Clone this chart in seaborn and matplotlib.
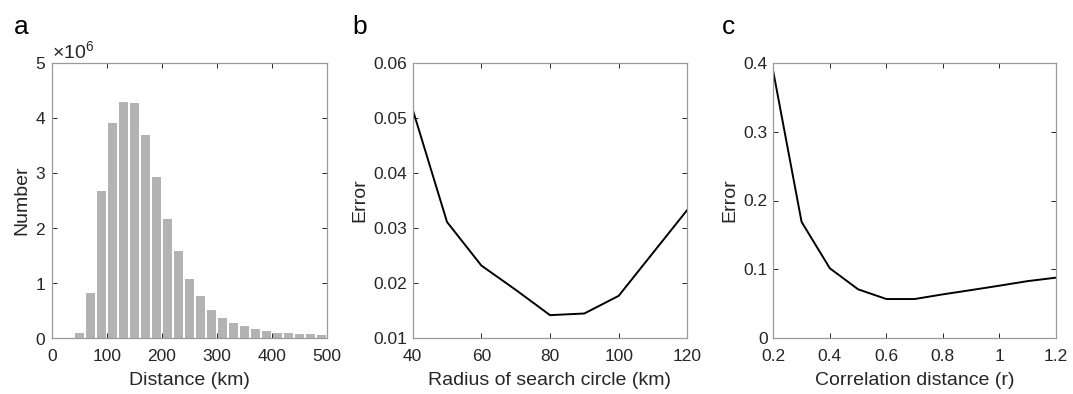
import numpy as np
import pandas as pd
import matplotlib
matplotlib.use("Agg")
import matplotlib.pyplot as plt
import seaborn as sns
from matplotlib.ticker import ScalarFormatter

# ---- data ----
dist_centers = [10, 30, 50, 70, 90, 110, 130, 150, 170, 190, 210, 230, 250,
                270, 290, 310, 330, 350, 370, 390, 410, 430, 450, 470, 490]
dist_counts = [0.003e6, 0.008e6, 0.09e6, 0.83e6, 2.67e6, 3.90e6, 4.28e6, 4.27e6,
               3.68e6, 2.93e6, 2.17e6, 1.58e6, 1.08e6, 0.76e6, 0.52e6, 0.375e6,
               0.28e6, 0.22e6, 0.168e6, 0.132e6, 0.105e6, 0.09e6, 0.08e6,
               0.072e6, 0.062e6]

radius_km = [40, 50, 60, 70, 80, 90, 100, 110, 120]
radius_err = [0.0515, 0.0311, 0.0232, 0.0188, 0.0142, 0.0145, 0.0177, 0.0255, 0.0333]

corr_dist = [0.2, 0.3, 0.4, 0.5, 0.6, 0.7, 0.8, 0.9, 1.0, 1.1, 1.2]
corr_err = [0.387, 0.169, 0.1016, 0.0711, 0.057, 0.057, 0.0638, 0.070, 0.0764, 0.083, 0.088]

hist_df = pd.DataFrame({'distance': dist_centers, 'count': dist_counts})

# ---- style ----
sns.set_style("white")
plt.rcParams['font.family'] = ['Liberation Sans', 'DejaVu Sans']
plt.rcParams['mathtext.fontset'] = 'custom'
plt.rcParams['mathtext.rm'] = 'Liberation Sans'
plt.rcParams['mathtext.it'] = 'Liberation Sans'

fig = plt.figure(figsize=(10.73, 3.94), dpi=100)
ax_a = fig.add_axes([51.7/1073, (394-338.3)/394, 275/1073, 275.6/394])
ax_b = fig.add_axes([412.7/1073, (394-338.3)/394, 274.6/1073, 275.6/394])
ax_c = fig.add_axes([773.3/1073, (394-338.3)/394, 282.7/1073, 275.6/394])

tick_col = '#262626'
box_col = '#9a9a9a'
TICK_FS = 12.5
LAB_FS = 14

def style(ax):
    for s in ax.spines.values():
        s.set_visible(True)
        s.set_color(box_col)
        s.set_linewidth(0.9)
    ax.tick_params(direction='in', length=3.5, width=0.7, color=tick_col,
                   labelsize=TICK_FS, labelcolor=tick_col, top=True, right=True,
                   bottom=True, left=True)
    ax.tick_params(axis='x', pad=7.5)
    ax.tick_params(axis='y', pad=4)
    ax.xaxis.label.set_color(tick_col)
    ax.yaxis.label.set_color(tick_col)

# panel a
sns.histplot(data=hist_df, x='distance', weights='count', binwidth=20,
             binrange=(0, 500), shrink=0.8, color='#b3b3b3', edgecolor='none',
             alpha=1, ax=ax_a)
ax_a.set_xlim(0, 500)
ax_a.set_ylim(0, 5e6)
ax_a.set_xticks([0, 100, 200, 300, 400, 500])
ax_a.set_yticks([0, 1e6, 2e6, 3e6, 4e6, 5e6])
fmt = ScalarFormatter(useMathText=True)
fmt.set_powerlimits((0, 0))
ax_a.yaxis.set_major_formatter(fmt)
ax_a.yaxis.get_offset_text().set_fontsize(14)
ax_a.yaxis.get_offset_text().set_color(tick_col)
ax_a.set_xlabel('Distance (km)', fontsize=LAB_FS, labelpad=6)
ax_a.set_ylabel('Number', fontsize=LAB_FS, labelpad=3.5)
style(ax_a)

# panel b
sns.lineplot(x=radius_km, y=radius_err, color='black', linewidth=1.4, ax=ax_b)
ax_b.set_xlim(40, 120)
ax_b.set_ylim(0.01, 0.06)
ax_b.set_xticks([40, 60, 80, 100, 120])
ax_b.set_yticks([0.01, 0.02, 0.03, 0.04, 0.05, 0.06])
ax_b.set_yticklabels(['0.01', '0.02', '0.03', '0.04', '0.05', '0.06'])
ax_b.set_xlabel('Radius of search circle (km)', fontsize=LAB_FS, labelpad=6)
ax_b.set_ylabel('Error', fontsize=LAB_FS, labelpad=3.5)
style(ax_b)

# panel c
sns.lineplot(x=corr_dist, y=corr_err, color='black', linewidth=1.4, ax=ax_c)
ax_c.set_xlim(0.2, 1.2)
ax_c.set_ylim(0, 0.4)
ax_c.set_xticks([0.2, 0.4, 0.6, 0.8, 1.0, 1.2])
ax_c.set_xticklabels(['0.2', '0.4', '0.6', '0.8', '1', '1.2'])
ax_c.set_yticks([0, 0.1, 0.2, 0.3, 0.4])
ax_c.set_yticklabels(['0', '0.1', '0.2', '0.3', '0.4'])
ax_c.set_xlabel('Correlation distance (r)', fontsize=LAB_FS, labelpad=6)
ax_c.set_ylabel('Error', fontsize=LAB_FS, labelpad=3.5)
style(ax_c)

for x, lab in [(14, 'a'), (352, 'b'), (722, 'c')]:
    fig.text(x/1073, 1 - 34/394, lab, fontsize=19, color='black')

fig.savefig('out.png', dpi=100)
